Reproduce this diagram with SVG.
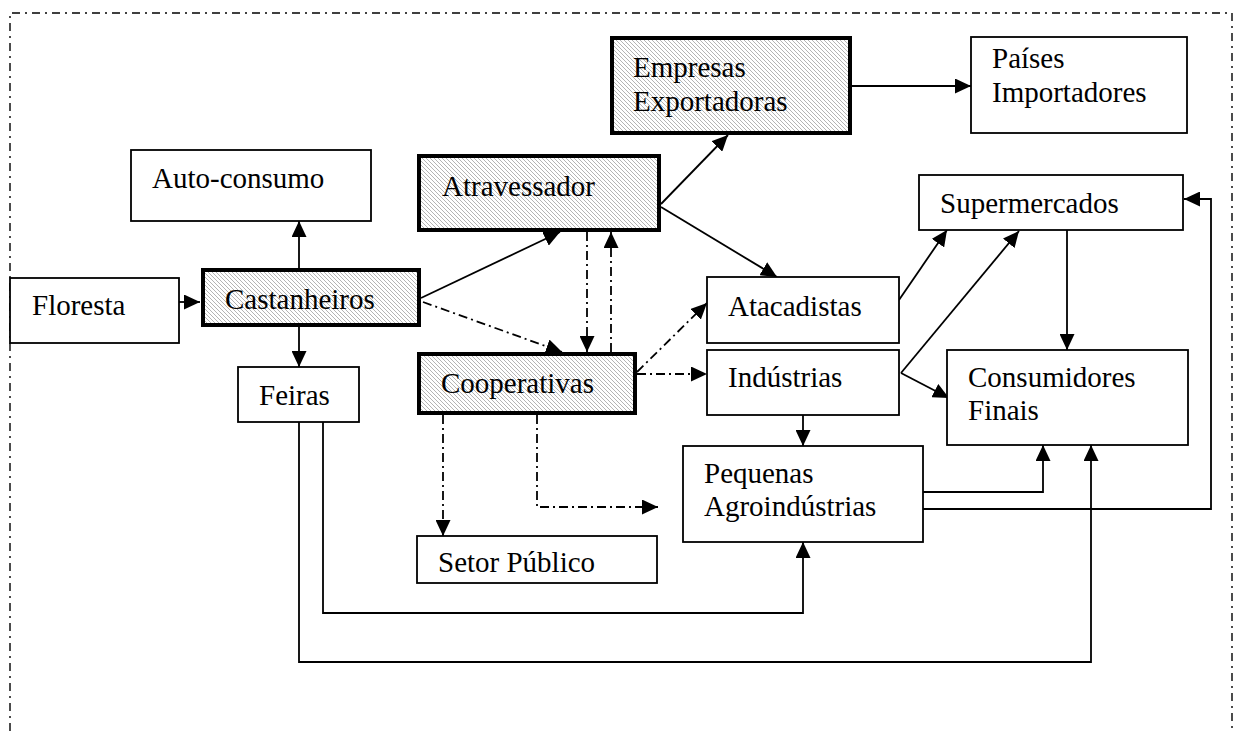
<svg xmlns="http://www.w3.org/2000/svg" width="1236" height="731" viewBox="0 0 1236 731">
  <defs>
    <!-- diagonal grey hatching for the key agents -->
    <pattern id="hatch" patternUnits="userSpaceOnUse" width="4" height="4">
      <rect width="4" height="4" fill="#ffffff"/>
      <path d="M-1,-1 L5,5 M3,-1 L5,1 M-1,3 L1,5" stroke="#ababab" stroke-width="0.9"/>
    </pattern>
    <marker id="arrow" viewBox="0 0 16 15" refX="16" refY="7.5" markerWidth="16" markerHeight="15" markerUnits="userSpaceOnUse" orient="auto">
      <path d="M0,0 L16,7.5 L0,15 Z" fill="#000"/>
    </marker>
  </defs>
  <style>
    text { font-family: "Liberation Serif", "Times New Roman", serif; font-size: 29px; fill: #000; }
    .box { fill: #fff; stroke: #000; stroke-width: 1.8; }
    .key { fill: url(#hatch); stroke: #000; stroke-width: 4; }
    .flow { fill: none; stroke: #000; stroke-width: 1.8; marker-end: url(#arrow); }
    .dash { fill: none; stroke: #000; stroke-width: 1.8; stroke-dasharray: 9 4 2 4; marker-end: url(#arrow); }
    .frame { fill: none; stroke: #000; stroke-width: 1.4; stroke-dasharray: 8 5 2 5; }
  </style>

  <rect width="1236" height="731" fill="#fff"/>

  <!-- dash-dot frame around the chain -->
  <path class="frame" d="M10,731 V13 H1232 V731"/>

  <g id="connectors">
    <path class="flow" d="M179,302 H200"/>
    <path class="flow" d="M299,268 V221"/>
    <path class="flow" d="M299,327 V367"/>
    <path class="flow" d="M421,298 L560,232"/>
    <path class="dash" d="M423,302 L562,352"/>
    <path class="dash" d="M587,232 V352"/>
    <path class="dash" d="M611,352 V232"/>
    <path class="flow" d="M661,204 L728,135"/>
    <path class="flow" d="M661,207 L777,277"/>
    <path class="flow" d="M852,86 H971"/>
    <path class="dash" d="M637,372 L707,303"/>
    <path class="dash" d="M637,374 H707"/>
    <path class="dash" d="M443,415 V536"/>
    <path class="dash" d="M537,415 V507 H658"/>
    <path class="flow" d="M899,300 L947,230"/>
    <path class="flow" d="M901,373 L1019,231"/>
    <path class="flow" d="M901,373 L949,398"/>
    <path class="flow" d="M1067,230 V350"/>
    <path class="flow" d="M803,415 V446"/>
    <path class="flow" d="M923,492 H1043 V445"/>
    <path class="flow" d="M923,509 H1211 V199 H1184"/>
    <path class="flow" d="M323,422 V613 H803 V542"/>
    <path class="flow" d="M299,422 V662 H1091 V445"/>
  </g>

  <g id="empresas">
    <rect class="key" x="612" y="38" width="238" height="95"/>
    <text x="633" y="77">Empresas</text>
    <text x="633" y="111">Exportadoras</text>
  </g>
  <g id="paises">
    <rect class="box" x="971" y="37" width="216" height="96"/>
    <text x="992" y="68">Países</text>
    <text x="992" y="102">Importadores</text>
  </g>
  <g id="autoconsumo">
    <rect class="box" x="131" y="150" width="240" height="71"/>
    <text x="152" y="188">Auto-consumo</text>
  </g>
  <g id="atravessador">
    <rect class="key" x="419" y="156" width="240" height="74"/>
    <text x="442" y="196">Atravessador</text>
  </g>
  <g id="supermercados">
    <rect class="box" x="919" y="175" width="264" height="55"/>
    <text x="940" y="213">Supermercados</text>
  </g>
  <g id="floresta">
    <rect class="box" x="10" y="278" width="169" height="65"/>
    <text x="32" y="315">Floresta</text>
  </g>
  <g id="castanheiros">
    <rect class="key" x="203" y="270" width="216" height="55"/>
    <text x="225" y="309">Castanheiros</text>
  </g>
  <g id="atacadistas">
    <rect class="box" x="707" y="277" width="192" height="66"/>
    <text x="728" y="316">Atacadistas</text>
  </g>
  <g id="feiras">
    <rect class="box" x="238" y="367" width="121" height="55"/>
    <text x="259" y="405">Feiras</text>
  </g>
  <g id="cooperativas">
    <rect class="key" x="419" y="354" width="216" height="59"/>
    <text x="441" y="393">Cooperativas</text>
  </g>
  <g id="industrias">
    <rect class="box" x="707" y="350" width="192" height="65"/>
    <text x="728" y="387">Indústrias</text>
  </g>
  <g id="consumidores">
    <rect class="box" x="947" y="350" width="241" height="95"/>
    <text x="968" y="387">Consumidores</text>
    <text x="968" y="420">Finais</text>
  </g>
  <g id="pequenas">
    <rect class="box" x="683" y="446" width="240" height="96"/>
    <text x="704" y="483">Pequenas</text>
    <text x="704" y="516">Agroindústrias</text>
  </g>
  <g id="setor-publico">
    <rect class="box" x="417" y="536" width="240" height="47"/>
    <text x="438" y="572">Setor Público</text>
  </g>
</svg>
